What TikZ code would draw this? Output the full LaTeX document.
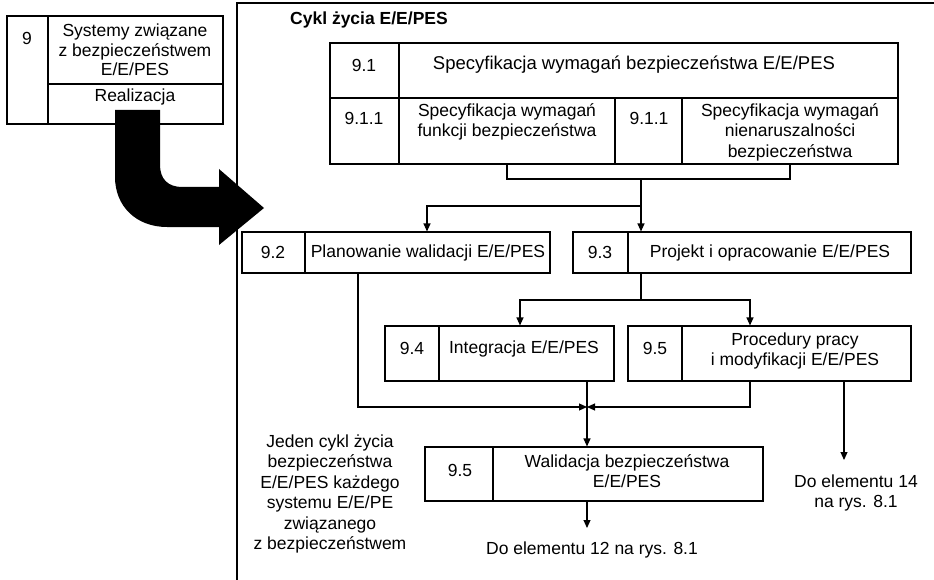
\documentclass[tikz,border=0pt]{standalone}
\usepackage{fontspec}
\setmainfont{Liberation Sans}
\usetikzlibrary{arrows.meta,calc}
\begin{document}
\begin{tikzpicture}[x=1pt,y=-1pt,
  every node/.style={font=\fontsize{17.5}{20.5}\selectfont, inner sep=0pt, align=center},
  box/.style={draw, line width=1.1pt},
  rule/.style={line width=1.1pt},
  link/.style={line width=1.1pt},
  flow/.style={line width=1.1pt, -{Triangle[length=8pt,width=7pt]}},
  frameline/.style={line width=1.5pt}
]
\useasboundingbox (0,0) rectangle (934,580);

% outer frame of the life cycle
\draw[frameline] (934,3) -- (237,3) -- (237,580);

% box 9 with its dividers
\draw[box] (7,16) rectangle (223,124);
\draw[rule] (48,16) -- (48,124);
\draw[rule] (48,84) -- (223,84);
\node (n9) at (27,38) {9};
\node[font=\fontsize{17.5}{19.5}\selectfont] (t9) at (135,50) {Systemy związane\\z bezpieczeństwem\\E/E/PES};
\node (r9) at (135,97) {Realizacja};

% big bent arrow into the life cycle
\fill (115,110) -- (160,110) -- (160,165)
  .. controls (160,179) and (168,187) .. (182,187)
  -- (219,187) -- (219,169) -- (264,208) -- (219,245) -- (219,227)
  -- (167,227) .. controls (136,227) and (115,206) .. (115,177) -- cycle;

\node[anchor=west, font=\fontsize{17.5}{20.5}\selectfont\bfseries] (title) at (290,20) {Cykl życia E/E/PES};

% 9.1 requirements block
\node[box, minimum width=568pt, minimum height=121pt] (b91) at (614,103.5) {};
\draw[rule] (330,98) -- (898,98);
\draw[rule] (399,43) -- (399,164);
\draw[rule] (615,98) -- (615,164);
\draw[rule] (682,98) -- (682,164);
\node (n91) at (364,65) {9.1};
\node[font=\fontsize{18.5}{21}\selectfont] (t91) at (634,65) {Specyfikacja wymagań bezpieczeństwa E/E/PES};
\node (n911a) at (364,118) {9.1.1};
\node (t911a) at (507,122) {Specyfikacja wymagań\\funkcji bezpieczeństwa};
\node (n911b) at (649,118) {9.1.1};
\node (t911b) at (790,132) {Specyfikacja wymagań\\nienaruszalności\\bezpieczeństwa};

% 9.2 and 9.3
\node[box, minimum width=308pt, minimum height=41pt] (b92) at (396,252.5) {};
\draw[rule] (305,232) -- (305,273);
\node (n92) at (273,252) {9.2};
\node (t92) at (428,253) {Planowanie walidacji E/E/PES};

\node[box, minimum width=338pt, minimum height=41pt] (b93) at (742,252.5) {};
\draw[rule] (628,232) -- (628,273);
\node (n93) at (600,252) {9.3};
\node (t93) at (770,253) {Projekt i opracowanie E/E/PES};

% 9.4 and 9.5
\node[box, minimum width=229pt, minimum height=55pt] (b94) at (499.5,353.5) {};
\draw[rule] (439,326) -- (439,381);
\node (n94) at (412,348) {9.4};
\node (t94) at (524,349) {Integracja E/E/PES};

\node[box, minimum width=283pt, minimum height=55pt] (b95) at (769.5,353.5) {};
\draw[rule] (682,326) -- (682,381);
\node (n95) at (655,348) {9.5};
\node (t95) at (795,351) {Procedury pracy\\i modyfikacji E/E/PES};

% validation
\node[box, minimum width=338pt, minimum height=54pt] (bw) at (594,474) {};
\draw[rule] (493,447) -- (493,501);
\node (nw) at (460,470) {9.5};
\node (tw) at (627,471) {Walidacja bezpieczeństwa\\E/E/PES};

% free texts
\node (out14) at (856,493) {Do elementu 14\\na rys. 8.1};
\node (out12) at (592,550) {Do elementu 12 na rys. 8.1};
\node (note) at (330,494) {Jeden cykl życia\\bezpieczeństwa\\E/E/PES każdego\\systemu E/E/PE\\związanego\\z bezpieczeństwem};

% junction points
\coordinate (ja) at (507,179);
\coordinate (jb) at (790,179);
\coordinate (jc) at (641,179);
\coordinate (jd) at (427,206);
\coordinate (je) at (641,300);
\coordinate (jf) at (520,300);
\coordinate (jg) at (750,300);
\coordinate (jh) at (358,407);
\coordinate (ji) at (750,407);
\coordinate (jm) at (587,407);
\coordinate (e14) at (844,460);
\coordinate (e12) at (587,528);

% connectors
\draw[link] (ja |- b91.south) -- (ja) -- (jb) -- (jb |- b91.south);
\draw[flow] (jc) -- (jc |- b93.north);
\draw[flow] (jc |- jd) -- (jd) -- (jd |- b92.north);
\draw[link] (je |- b93.south) -- (je);
\draw[flow] (je) -- (jf) -- (jf |- b94.north);
\draw[flow] (je) -- (jg) -- (jg |- b95.north);
\draw[flow] (jh |- b92.south) -- (jh) -- (jm);
\draw[flow] (ji |- b95.south) -- (ji) -- (jm);
\draw[flow] (jm |- b94.south) -- (jm |- bw.north);
\draw[flow] (e14 |- b95.south) -- (e14);
\draw[flow] (e12 |- bw.south) -- (e12);
\end{tikzpicture}
\end{document}
